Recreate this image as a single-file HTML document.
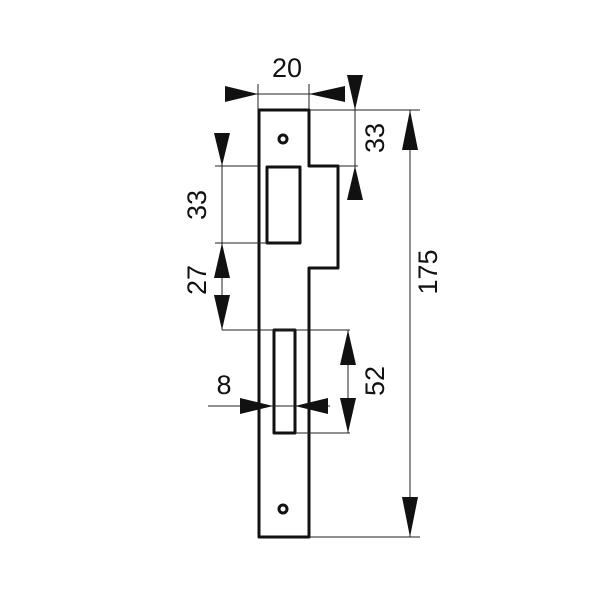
<!DOCTYPE html>
<html><head><style>body{margin:0;background:#fff}svg{display:block}</style></head><body>
<svg width="600" height="600" viewBox="0 0 600 600" xmlns="http://www.w3.org/2000/svg" font-family="Liberation Sans, sans-serif" font-size="27">
<rect width="600" height="600" fill="#fff"/>
<g fill="none" stroke="#111" stroke-width="3" stroke-linejoin="round">
<path d="M259 110 H309 V166 H338 V268 H309 V537 H259 Z"/>
<rect x="267" y="167" width="33" height="76"/>
<rect x="274" y="330" width="21" height="103"/>
<circle cx="283" cy="139" r="4"/>
<circle cx="283" cy="509" r="4"/>
</g>
<g stroke="#222" stroke-width="1" fill="none">
<line x1="258" y1="84" x2="258" y2="110"/><line x1="309" y1="84" x2="309" y2="110"/>
<line x1="225" y1="94" x2="345" y2="94"/>
<line x1="309" y1="110" x2="420" y2="110"/><line x1="309" y1="537" x2="420" y2="537"/>
<line x1="410" y1="110" x2="410" y2="537"/>
<line x1="355" y1="75" x2="355" y2="200"/>
<line x1="338" y1="166" x2="358" y2="166"/>
<line x1="215" y1="166" x2="259" y2="166"/><line x1="215" y1="243" x2="267" y2="243"/>
<line x1="222" y1="133" x2="222" y2="330"/>
<line x1="222" y1="330" x2="350" y2="330"/><line x1="295" y1="433" x2="350" y2="433"/>
<line x1="348" y1="330" x2="348" y2="433"/>
<line x1="208" y1="406" x2="330" y2="406"/>
</g>
<g fill="#111">
<polygon points="225,86 225,102 258,94"/><polygon points="345,86 345,102 309,94"/>
<polygon points="402,150 418,150 410,110"/><polygon points="402,497 418,497 410,537"/>
<polygon points="347,75 363,75 355,110"/><polygon points="347,200 363,200 355,166"/>
<polygon points="214,133 230,133 222,166"/>
<polygon points="214,278 230,278 222,243"/><polygon points="214,295 230,295 222,330"/>
<polygon points="340,365 356,365 348,330"/><polygon points="340,398 356,398 348,433"/>
<polygon points="240,398 240,414 273,406"/><polygon points="328,398 328,414 295,406"/>
</g>
<g fill="#111" text-anchor="middle">
<text x="287" y="77">20</text>
<text x="224" y="394">8</text>
<text transform="translate(384,138) rotate(-90)">33</text>
<text transform="translate(206,205) rotate(-90)">33</text>
<text transform="translate(206,280) rotate(-90)">27</text>
<text transform="translate(384,381) rotate(-90)">52</text>
<text transform="translate(437,272) rotate(-90)">175</text>
</g>
</svg>
</body></html>
